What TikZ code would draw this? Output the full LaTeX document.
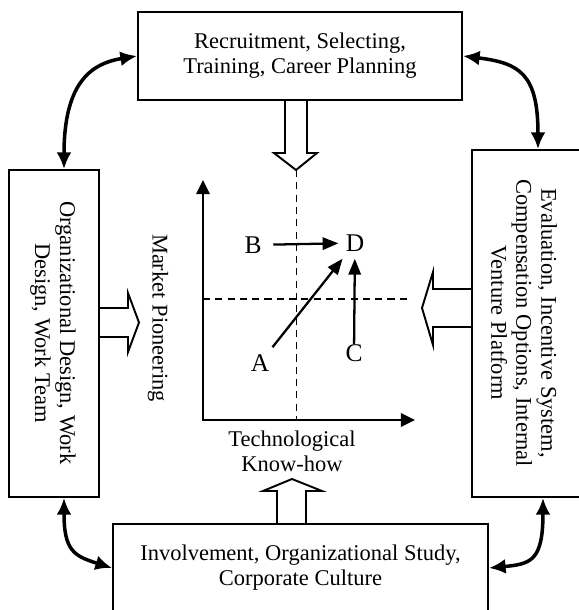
\documentclass[tikz,border=0pt]{standalone}
\usepackage{fontspec}
\setmainfont{Liberation Serif}
\usetikzlibrary{arrows.meta,calc}

\begin{document}
\begin{tikzpicture}[x=0.02cm, y=-0.02cm, font=\fontsize{12.8pt}{14.2pt}\selectfont,
  box/.style={draw, line width=1.1pt, inner sep=0pt},
  boxtext/.style={align=center, inner sep=0pt},
  link/.style={line width=2pt, {Latex[length=9.5pt,width=8.5pt]}-{Latex[length=9.5pt,width=8.5pt]}},
  hollow/.style={line width=1.1pt, line join=miter},
  axis/.style={line width=1.4pt, {Triangle[length=8pt,width=7.5pt]}-{Triangle[length=8pt,width=7.5pt]}},
  move/.style={line width=1.3pt, -{Triangle[length=9pt,width=7pt]}},
  guide/.style={line width=0.8pt, dash pattern=on 4pt off 3pt},
  letter/.style={font=\fontsize{14.5pt}{16pt}\selectfont, inner sep=4pt}]

\useasboundingbox (0,0) rectangle (579,610);
\clip (0,0) rectangle (579,610);

\node[box, align=center, minimum width=6.48cm, minimum height=1.76cm] (recruit) at (300,56) {Recruitment, Selecting,\\Training, Career Planning};
\node[box, align=center, minimum width=7.5cm, minimum height=1.76cm] (involvement) at (300.5,568) {Involvement, Organizational Study,\\Corporate Culture};

\node[box, minimum width=1.8cm, minimum height=6.54cm] (orgdesign) at (54,333.5) {};
\node[boxtext, rotate=-90] (orgdesigntext) at (53,333) {Organizational Design, Work\\Design, Work Team};

\node[box, minimum width=2.4cm, minimum height=6.94cm] (evaluation) at (532,323.5) {};
\node[boxtext, rotate=-90] (evaluationtext) at (524,323) {Evaluation, Incentive System,\\Compensation Options, Internal\\Venture Platform};

\draw[link] ($(orgdesign.north)+(10,0)$) .. controls +(0,-90) and +(-43,7) .. (recruit.west);
\draw[link] (recruit.east) .. controls +(57,7) and +(0,-75) .. ($(evaluation.north)+(6,0)$);
\draw[link] ($(orgdesign.south)+(10,0)$) .. controls +(0,53) and +(-38,-12) .. (involvement.west);
\draw[link] (involvement.east) .. controls +(42,-4) and +(0,63) .. ($(evaluation.south)+(11,0)$);

\draw[hollow] (285,100) -- (285,153) -- (274,153) -- (296,170) -- (317,153) -- (307,153) -- (307,100);
\draw[hollow] (99,308) -- (128,308) -- (128,293) -- (139,322.5) -- (128,352) -- (128,337) -- (99,337);
\draw[hollow] (472,289) -- (433,289) -- (433,272) -- (422,308) -- (433,345) -- (433,327) -- (472,327);
\draw[hollow] (277,524) -- (277,491) -- (263,491) -- (292,479) -- (322,491) -- (306,491) -- (306,524);

\coordinate (origin) at (203,420);
\coordinate (ytip) at (203,180);
\coordinate (xtip) at (415,420);
\draw[axis] (ytip) -- (origin) -- (xtip);

\draw[guide] (296.5,170) -- (296.5,420);
\draw[guide] (203,299) -- (407,299);

\node[rotate=-90] (market) at (158,318) {Market Pioneering};
\node[align=center] (techknow) at (292,451) {Technological\\Know-how};

\node[letter] (ptB) at (253,245) {B};
\node[letter] (ptD) at (355,243) {D};
\node[letter] (ptA) at (260,363) {A};
\node[letter] (ptC) at (354,353) {C};

\draw[move, shorten <=2.5pt] (ptB) -- (ptD);
\draw[move] (ptA) -- (ptD);
\draw[move, shorten <=-4pt] (ptC) -- (ptD);

\end{tikzpicture}
\end{document}
